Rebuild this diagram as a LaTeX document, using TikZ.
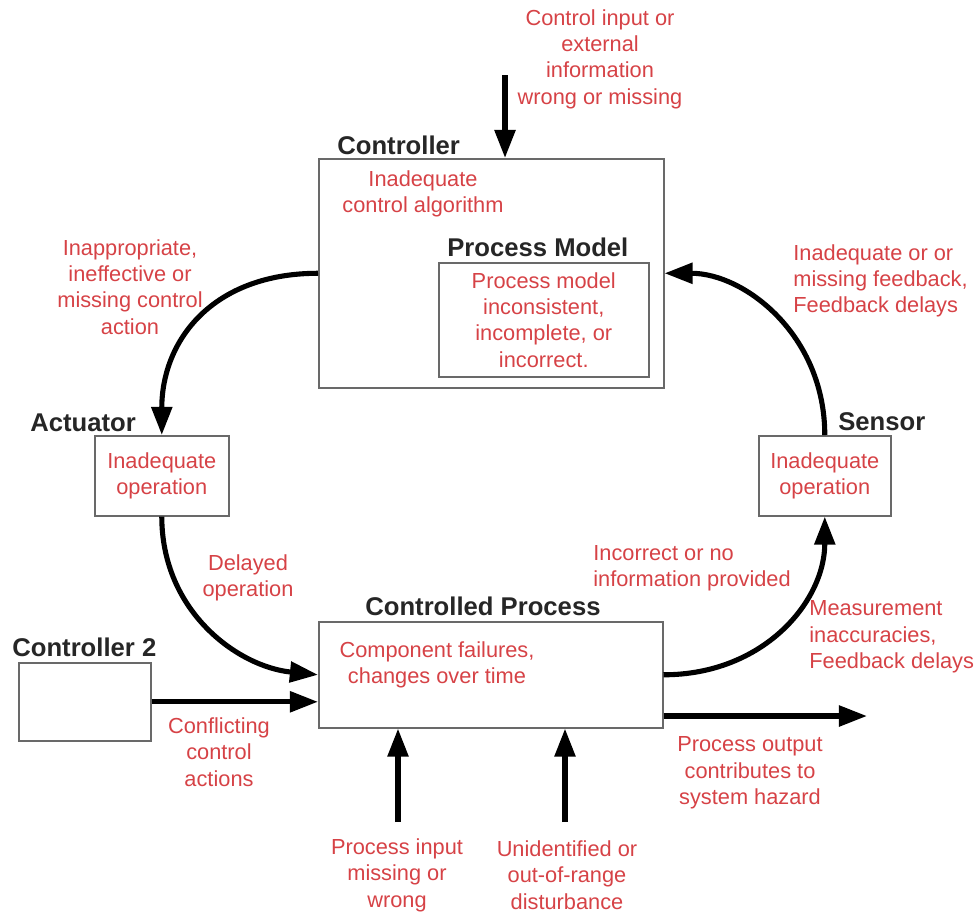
\documentclass[tikz,border=0pt]{standalone}
\usepackage{fontspec}
\setmainfont{Liberation Sans}
\usetikzlibrary{arrows.meta}
\definecolor{fault}{RGB}{214,66,70}
\definecolor{frame}{RGB}{105,105,105}
\begin{document}
\begin{tikzpicture}[x=0.02cm,y=-0.02cm,
  box/.style={draw=frame,line width=0.9pt,anchor=north west,inner sep=0pt},
  title/.style={font=\fontsize{14.6}{17}\selectfont\bfseries,text=black!85,inner sep=0pt},
  note/.style={font=\fontsize{12.4}{15}\selectfont,text=fault,align=center,inner sep=0pt},
  notel/.style={note,align=left,anchor=west},
  flow/.style={line width=2.9pt,-{Triangle[length=16pt,width=11.5pt]}},
]
\useasboundingbox (0,0) rectangle (980,914);

% blocks of the control loop
\node[box,minimum width=6.9cm,minimum height=4.58cm] (ctrl) at (318,158) {};
\node[box,minimum width=4.2cm,minimum height=2.28cm,note,anchor=north west] (pm) at (438,262)
  {Process model\\inconsistent,\\incomplete, or\\incorrect.};
\node[box,minimum width=2.68cm,minimum height=1.6cm,note,anchor=north west] (act) at (94,435)
  {Inadequate\\operation};
\node[box,minimum width=2.64cm,minimum height=1.6cm,note,anchor=north west] (sens) at (758,435)
  {Inadequate\\operation};
\node[box,minimum width=6.88cm,minimum height=2.12cm] (proc) at (318,621) {};
\node[box,minimum width=2.64cm,minimum height=1.56cm] (ctrltwo) at (18,662) {};

% block titles
\node[title,anchor=west] (tctrl) at (337,145) {Controller};
\node[title,anchor=west] (tpm) at (447,247) {Process Model};
\node[title,anchor=west] (tact) at (30,423) {Actuator};
\node[title,anchor=west] (tsens) at (838,422) {Sensor};
\node[title,anchor=west] (tproc) at (365,606) {Controlled Process};
\node[title,anchor=west] (tctrltwo) at (12,647) {Controller 2};

% faults inside blocks
\node[note] (algo) at (423,194) {Inadequate\\control algorithm};
\node[note] (comp) at (437,665) {Component failures,\\changes over time};

% faults along the connections
\node[note] (nin) at (600,59) {Control input or\\external\\information\\wrong or missing};
\node[note] (nact) at (130,287) {Inappropriate,\\ineffective or\\missing control\\action};
\node[notel] (nfb) at (793,281) {Inadequate or or\\missing feedback,\\Feedback delays};
\node[note] (ndel) at (248,578) {Delayed\\operation};
\node[notel] (ninfo) at (593,568) {Incorrect or no\\information provided};
\node[notel] (nmeas) at (809,637) {Measurement\\inaccuracies,\\Feedback delays};
\node[note] (nconf) at (219,752) {Conflicting\\control\\actions};
\node[note] (nout) at (750,773) {Process output\\contributes to\\system hazard};
\node[note] (npin) at (397,875) {Process input\\missing or\\wrong};
\node[note] (ndist) at (567,875) {Unidentified or\\out-of-range\\disturbance};

% loose ends of the external signals
\coordinate (cin) at (505,75);
\coordinate (pout) at (867,716);
\coordinate (pin) at (398,822);
\coordinate (dist) at (565,822);

% control loop
\draw[flow] (ctrl.west) .. controls +(-105,0) and +(0,-95) .. (act.north);
\draw[flow] (act.south) .. controls +(0,95) and +(-80,-8) .. (proc.west);
\draw[flow] (proc.east) .. controls +(100,0) and +(0,85) .. (sens.south);
\draw[flow] (sens.north) .. controls +(0,-100) and +(80,0) .. (ctrl.east);

% external signals
\draw[flow] (cin) -- (cin |- ctrl.north);
\draw[flow] (ctrltwo.east) -- (ctrltwo.east -| proc.west);
\draw[flow] (pout -| proc.east) -- (pout);
\draw[flow] (pin) -- (pin |- proc.south);
\draw[flow] (dist) -- (dist |- proc.south);
\end{tikzpicture}
\end{document}
